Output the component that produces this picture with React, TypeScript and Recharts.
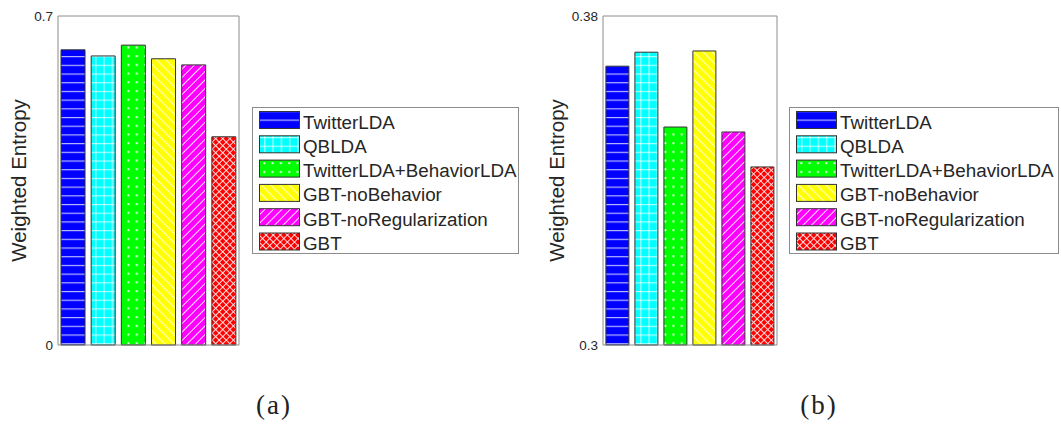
import React from 'react';
import { BarChart, Bar, XAxis, YAxis, Cell } from 'recharts';

const methods = [
  'TwitterLDA',
  'QBLDA',
  'TwitterLDA+BehaviorLDA',
  'GBT-noBehavior',
  'GBT-noRegularization',
  'GBT',
];
const entropyA = [0.628, 0.615, 0.638, 0.609, 0.596, 0.443];
const entropyB = [0.3678, 0.3712, 0.353, 0.3715, 0.3518, 0.3433];
const ticksA = [0, 0.7];
const ticksB = [0.3, 0.38];
const captions = ['(a)', '(b)'];
const yTitle = 'Weighted Entropy';

const FRAME = '#8c8c8c';
const INK = '#262626';
const SANS = '"Liberation Sans", Arial, Helvetica, sans-serif';

// hatch fills, one per method, same order as `methods`
const Patterns = ({ id }: { id: string }) => (
  <defs>
    <pattern id={`${id}0`} patternUnits="userSpaceOnUse" width={8} height={8.7}>
      <rect width={8} height={8.7} fill="#0000ff" />
      <rect y={4} width={8} height={1} fill="#fff" opacity={0.85} />
    </pattern>
    <pattern id={`${id}1`} patternUnits="userSpaceOnUse" width={8.3} height={8.7}>
      <rect width={8.3} height={8.7} fill="#00ffff" />
      <rect x={4} width={1} height={8.7} fill="#fff" opacity={0.8} />
      <rect y={4} width={8.3} height={1} fill="#fff" opacity={0.8} />
    </pattern>
    <pattern id={`${id}2`} patternUnits="userSpaceOnUse" width={8.3} height={8.7}>
      <rect width={8.3} height={8.7} fill="#00ff00" />
      <rect x={3} y={3} width={2} height={2} fill="#fff" opacity={0.9} />
    </pattern>
    <pattern id={`${id}3`} patternUnits="userSpaceOnUse" width={6.5} height={6.5} patternTransform="rotate(-45)">
      <rect width={6.5} height={6.5} fill="#ffff00" />
      <rect x={3} width={1} height={6.5} fill="#fff" opacity={0.9} />
    </pattern>
    <pattern id={`${id}4`} patternUnits="userSpaceOnUse" width={6} height={6} patternTransform="rotate(45)">
      <rect width={6} height={6} fill="#ff00ff" />
      <rect x={3} width={1} height={6} fill="#fff" opacity={0.9} />
    </pattern>
    <pattern id={`${id}5`} patternUnits="userSpaceOnUse" width={5} height={5} patternTransform="rotate(45)">
      <rect width={5} height={5} fill="#ff0000" />
      <rect width={1} height={5} fill="#fff" opacity={0.85} />
      <rect width={5} height={1} fill="#fff" opacity={0.85} />
    </pattern>
  </defs>
);

const AxisTitle = ({ viewBox, baseX }: any) => {
  const cy = viewBox ? viewBox.y + viewBox.height / 2 : 180;
  return (
    <text
      x={baseX}
      y={cy}
      transform={`rotate(-90 ${baseX} ${cy})`}
      textAnchor="middle"
      fontSize={20.5}
      fontFamily={SANS}
      fill={INK}
    >
      {yTitle}
    </text>
  );
};

interface PanelProps {
  id: string;
  values: number[];
  ticks: number[];
  width: number;
  plotRight: number;
  titleX: number;
}

// plot box is 58..plotRight x 16..345; the 1px axes sit just outside it
const Panel = ({ id, values, ticks, width, plotRight, titleX }: PanelProps) => {
  const data = methods.map((name, i) => ({ name, value: values[i] }));
  return (
    <BarChart
      width={width}
      height={360}
      data={data}
      margin={{ top: 15, right: width - plotRight - 1, bottom: 14, left: 57 }}
      barCategoryGap="10%"
    >
      <Patterns id={id} />
      <XAxis
        xAxisId="b" dataKey="name" height={1} tick={false} tickSize={-5}
        axisLine={{ stroke: FRAME }} tickLine={{ stroke: FRAME }}
      />
      <XAxis
        xAxisId="t" dataKey="name" orientation="top" height={1} tick={false} tickSize={-5}
        axisLine={{ stroke: FRAME }} tickLine={{ stroke: FRAME }}
      />
      <YAxis
        yAxisId="l" type="number" domain={[ticks[0], ticks[1]]} ticks={ticks} width={1}
        tickSize={0} tickMargin={5} tickLine={false} axisLine={{ stroke: FRAME }}
        tick={{ fill: INK, fontSize: 13.5, fontFamily: SANS }}
        label={<AxisTitle baseX={titleX} />}
      />
      <YAxis
        yAxisId="r" orientation="right" type="number" domain={[0, 1]} width={1}
        tick={false} tickLine={false} axisLine={{ stroke: FRAME }}
      />
      <Bar dataKey="value" xAxisId="b" yAxisId="l" stroke="#333" strokeWidth={1} isAnimationActive={false}>
        {data.map((d, i) => (
          <Cell key={d.name} fill={`url(#${id}${i})`} />
        ))}
      </Bar>
    </BarChart>
  );
};

const LegendBox = ({ id, left, width }: { id: string; left: number; width: number }) => (
  <svg style={{ position: 'absolute', left, top: 107 }} width={width} height={148}>
    <Patterns id={id} />
    <rect x={0.5} y={0.5} width={width - 1} height={146} fill="#fff" stroke={FRAME} />
    {methods.map((m, i) => (
      <g key={m}>
        <rect x={7.5} y={4.5 + i * 24.3} width={40} height={17} fill={`url(#${id}${i})`} stroke="#333" />
        <text x={51} y={21.5 + i * 24.3} fontSize={18.8} fontFamily={SANS} fill={INK}>
          {m}
        </text>
      </g>
    ))}
  </svg>
);

export default function App() {
  return (
    <div style={{ position: 'absolute', left: 0, top: 0, width: 1061, height: 433, background: '#fff' }}>
      <div style={{ position: 'absolute', left: 0, top: 0 }}>
        <Panel id="pa" values={entropyA} ticks={ticksA} width={250} plotRight={239} titleX={26} />
      </div>
      <div style={{ position: 'absolute', left: 545, top: 0 }}>
        <Panel id="pb" values={entropyB} ticks={ticksB} width={240} plotRight={232} titleX={19} />
      </div>
      <LegendBox id="la" left={252} width={267} />
      <LegendBox id="lb" left={789} width={270} />
      {captions.map((c, i) => (
        <div
          key={c}
          style={{
            position: 'absolute',
            left: i === 0 ? 234 : 779,
            top: 390,
            width: 80,
            textAlign: 'center',
            fontFamily: '"Liberation Serif", "DejaVu Serif", serif',
            fontSize: 27,
            letterSpacing: 2,
            color: '#222',
          }}
        >
          {c}
        </div>
      ))}
    </div>
  );
}
